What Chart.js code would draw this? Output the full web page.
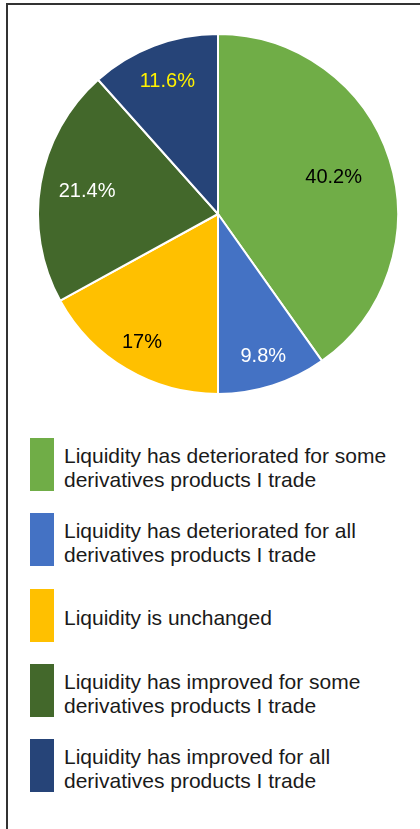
<!DOCTYPE html>
<html>
<head>
<meta charset="utf-8">
<script src="https://cdn.jsdelivr.net/npm/chart.js@4"></script>
<style>
  html, body { margin: 0; padding: 0; background: #fff; }
  body { width: 420px; height: 829px; position: relative; overflow: hidden; font-family: "Liberation Sans", Arial, sans-serif; }
  #frame { position: absolute; left: 6px; top: 3px; width: 500px; height: 900px; border-top: 2px solid #333; border-left: 2px solid #333; }
  #pie { position: absolute; left: 37px; top: 33px; }
  #legend { position: absolute; left: 30px; top: 438px; margin: 0; padding: 0; list-style: none; }
  #legend li { display: flex; align-items: center; height: 75.3px; }
  #legend .box { width: 24px; height: 53px; flex: none; margin-top: -22px; }
  #legend .txt { margin-left: 10px; margin-top: -16px; font-size: 21px; line-height: 23.5px; color: #1a1a1a; white-space: nowrap; }
</style>
</head>
<body>
<div id="frame"></div>
<canvas id="pie" width="362" height="362"></canvas>
<ul id="legend"></ul>
<script>
// answers, clockwise from the top
const labels = [
  ['Liquidity has deteriorated for some', 'derivatives products I trade'],
  ['Liquidity has deteriorated for all', 'derivatives products I trade'],
  ['Liquidity is unchanged'],
  ['Liquidity has improved for some', 'derivatives products I trade'],
  ['Liquidity has improved for all', 'derivatives products I trade'],
];
const shares = [40.2, 9.8, 17, 21.4, 11.6];
const colors = ['#70AD47', '#4472C4', '#FFC000', '#43682B', '#264478'];
const labelColors = ['#000000', '#ffffff', '#000000', '#ffffff', '#FFF200'];

// where each % label sits, as a fraction of the radius
const labelRadius = [0.674, 0.83, 0.83, 0.738, 0.79];

const sliceLabels = {
  id: 'sliceLabels',
  afterDatasetsDraw(chart) {
    const ctx = chart.ctx;
    const meta = chart.getDatasetMeta(0);
    ctx.save();
    ctx.font = '20px "Liberation Sans", Arial, sans-serif';
    ctx.textAlign = 'center';
    ctx.textBaseline = 'middle';
    meta.data.forEach((arc, i) => {
      const p = arc.getProps(['x', 'y', 'startAngle', 'endAngle', 'outerRadius'], true);
      const mid = (p.startAngle + p.endAngle) / 2;
      const r = p.outerRadius * labelRadius[i];
      ctx.fillStyle = labelColors[i];
      ctx.fillText(shares[i] + '%', p.x + Math.cos(mid) * r, p.y + Math.sin(mid) * r);
    });
    ctx.restore();
  },
};

const chart = new Chart(document.getElementById('pie'), {
  type: 'pie',
  data: {
    labels: labels,
    datasets: [
      {
        data: shares,
        backgroundColor: colors,
        borderColor: '#ffffff',
        borderWidth: 2,
      },
    ],
  },
  options: {
    responsive: false,
    animation: false,
    layout: { padding: 0 },
    plugins: {
      legend: { display: false },
      tooltip: { enabled: false },
    },
  },
  plugins: [sliceLabels],
});

// legend built from the chart's own data
const legendEl = document.getElementById('legend');
chart.data.labels.forEach((lines, i) => {
  const li = document.createElement('li');
  const box = document.createElement('span');
  box.className = 'box';
  box.style.background = chart.data.datasets[0].backgroundColor[i];
  const txt = document.createElement('span');
  txt.className = 'txt';
  txt.innerHTML = lines.join('<br>');
  li.appendChild(box);
  li.appendChild(txt);
  legendEl.appendChild(li);
});
</script>
</body>
</html>
